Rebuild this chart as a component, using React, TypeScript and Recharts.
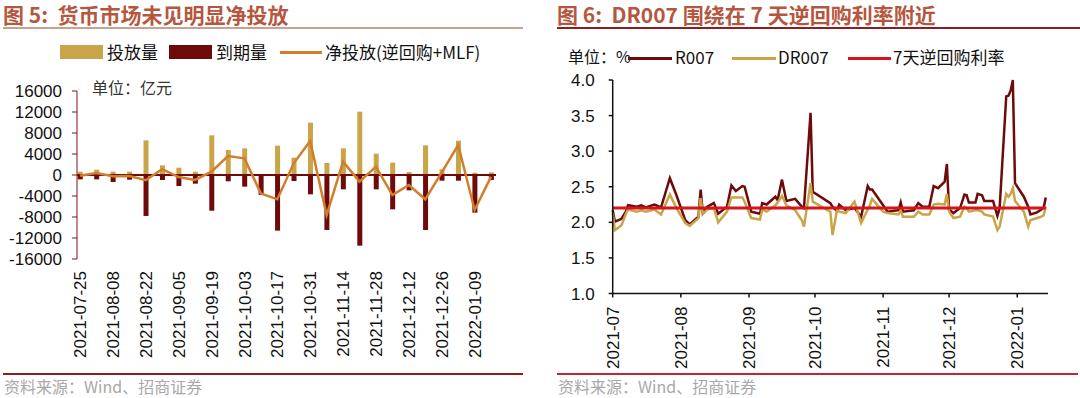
import React from "react";
import {
  Bar,
  ComposedChart,
  Line,
  LineChart,
  ReferenceLine,
  XAxis,
  YAxis
} from "recharts";

// 图5 weekly data (亿元)
const weeks = [
  '2021-07-25', '2021-08-01', '2021-08-08', '2021-08-15', '2021-08-22', '2021-08-29',
  '2021-09-05', '2021-09-12', '2021-09-19', '2021-09-26', '2021-10-03', '2021-10-10',
  '2021-10-17', '2021-10-24', '2021-10-31', '2021-11-07', '2021-11-14', '2021-11-21',
  '2021-11-28', '2021-12-05', '2021-12-12', '2021-12-19', '2021-12-26', '2022-01-02',
  '2022-01-09', '2022-01-16'
]
const injection = [
  640, 1000, 630, 630, 6600, 1840, 1400, 630, 7550, 4760, 5080, 200, 5590,
  3300, 9970, 2290, 5080, 12060, 4060, 2350, 570, 5650, 1080, 6540, 440, 500
]
const maturity = [
  -830, -830, -1330, -890, -7800, -950, -2100, -1650, -6800, -1200, -2220, -3800, -10600,
  -1140, -3680, -10480, -2730, -13460, -2730, -6540, -2920, -10480, -1080, -1080, -7170, -950
]
const netInjection = [
  -150, 380, -250, -200, -1000, 1100, -400, -950, 630, 3600, 3170, -3500, -4630,
  2220, 6480, -7620, 2540, -1270, 1590, -3810, -1900, -4630, 500, 5710, -6670, -300
]
const leftTicks = [16000, 12000, 8000, 4000, 0, -4000, -8000, -12000, -16000]

// 图6 daily rates (%)
const rateDates = [
  '2021-07-01', '2021-07-02', '2021-07-05', '2021-07-07', '2021-07-08', '2021-07-12',
  '2021-07-14', '2021-07-16', '2021-07-20', '2021-07-23', '2021-07-27', '2021-07-30',
  '2021-08-03', '2021-08-05', '2021-08-09', '2021-08-10', '2021-08-11', '2021-08-13',
  '2021-08-16', '2021-08-18', '2021-08-22', '2021-08-24', '2021-08-26', '2021-08-29',
  '2021-08-30', '2021-09-02', '2021-09-06', '2021-09-07', '2021-09-09', '2021-09-13',
  '2021-09-14', '2021-09-16', '2021-09-18', '2021-09-22', '2021-09-25', '2021-09-26',
  '2021-09-29', '2021-09-30', '2021-10-08', '2021-10-09', '2021-10-11', '2021-10-12',
  '2021-10-15', '2021-10-19', '2021-10-22', '2021-10-25', '2021-10-26', '2021-10-27',
  '2021-11-01', '2021-11-03', '2021-11-08', '2021-11-09', '2021-11-10', '2021-11-15',
  '2021-11-17', '2021-11-19', '2021-11-22', '2021-11-24', '2021-11-26', '2021-11-29',
  '2021-11-30', '2021-12-01', '2021-12-03', '2021-12-06', '2021-12-08', '2021-12-09',
  '2021-12-10', '2021-12-13', '2021-12-14', '2021-12-16', '2021-12-17', '2021-12-21',
  '2021-12-23', '2021-12-24', '2021-12-27', '2021-12-28', '2021-12-29', '2021-12-30',
  '2021-12-31', '2022-01-04', '2022-01-06', '2022-01-07', '2022-01-10', '2022-01-12',
  '2022-01-13', '2022-01-14'
]
const r007 = [
  2.17, 2.01, 2.05, 2.15, 2.24, 2.22,
  2.24, 2.21, 2.25, 2.21, 2.62, 2.38,
  2.03, 1.97, 2.08, 2.46, 2.13, 2.22,
  2.27, 2.12, 2.22, 2.52, 2.44, 2.51,
  2.50, 2.15, 2.12, 2.27, 2.25, 2.36,
  2.31, 2.60, 2.30, 2.33, 2.22, 2.20,
  3.54, 2.43, 2.27, 2.22, 2.16, 2.25,
  2.17, 2.20, 2.08, 2.51, 2.46, 2.46,
  2.24, 2.15, 2.17, 2.28, 2.15, 2.17,
  2.27, 2.22, 2.22, 2.51, 2.48, 2.57,
  2.82, 2.18, 2.13, 2.20, 2.39, 2.38,
  2.28, 2.28, 2.40, 2.38, 2.30, 2.30,
  2.09, 2.20, 3.77, 3.78, 3.85, 4.00,
  2.55, 2.36, 2.22, 2.11, 2.14, 2.18,
  2.20, 2.35
]
const dr007 = [
  2.13, 1.89, 1.96, 2.12, 2.18, 2.15,
  2.17, 2.15, 2.18, 2.11, 2.39, 2.20,
  1.99, 1.95, 2.06, 2.34, 2.12, 2.18,
  2.20, 2.00, 2.15, 2.35, 2.35, 2.35,
  2.29, 2.06, 2.04, 2.18, 2.15, 2.24,
  2.28, 2.37, 2.24, 2.17, 2.03, 1.94,
  2.55, 2.29, 2.15, 1.82, 2.17, 2.15,
  2.13, 2.29, 1.99, 2.18, 2.24, 2.33,
  2.15, 2.13, 2.11, 2.17, 2.08, 2.08,
  2.15, 2.11, 2.11, 2.25, 2.26, 2.25,
  2.40, 2.15, 2.06, 2.08, 2.22, 2.20,
  2.15, 2.17, 2.17, 2.15, 2.11, 2.08,
  1.89, 1.94, 2.40, 2.36, 2.40, 2.48,
  2.30, 2.15, 1.94, 2.03, 2.06, 2.08,
  2.10, 2.22
]
const repoDates = ['2021-07-01', '2022-01-14']
const repoRate = [2.2, 2.2]
const monthTicks = ['2021-07-01', '2021-08-01', '2021-09-01', '2021-10-01', '2021-11-01', '2021-12-01', '2022-01-01']
const rightTicks = [1.0, 1.5, 2.0, 2.5, 3.0, 3.5, 4.0]

const GOLD = '#C9A449'
const DARK = '#6E0A0A'
const ORANGE = '#D27D2A'
const RED = '#D6141B'
const FONT = '"Liberation Sans", Arial, sans-serif'
const CJK = '"Noto Sans CJK SC", sans-serif'

const ts = (s: string) => Date.UTC(+s.slice(0, 4), +s.slice(5, 7) - 1, +s.slice(8, 10))

const weekData = weeks.map((w, i) => ({
  i, w, inj: injection[i], mat: maturity[i], net: netInjection[i]
}))
const rateData = rateDates.map((d, i) => ({ t: ts(d), r: r007[i], dr: dr007[i] }))
const repoData = repoDates.map((d, i) => ({ t: ts(d), repo: repoRate[i] }))

function RotTick({ x, y, payload, fmt, off }: any) {
  return (
    <text
      transform={`translate(${x},${y + off}) rotate(-90)`}
      textAnchor="end"
      dy="0.36em"
      fontSize={17}
      fontFamily={FONT}
      fill="#111"
    >
      {fmt(payload.value)}
    </text>
  )
}

const abs = (s: React.CSSProperties): React.CSSProperties => ({ position: 'absolute', whiteSpace: 'nowrap', ...s })

function LeftChart() {
  return (
    <ComposedChart
      width={520}
      height={370}
      data={weekData}
      stackOffset="sign"
      margin={{ top: 91, right: 24, left: 0, bottom: 0 }}
    >
      <XAxis
        dataKey="i"
        type="number"
        domain={[-0.18, 25.3]}
        ticks={[0, 2, 4, 6, 8, 10, 12, 14, 16, 18, 20, 22, 24]}
        axisLine={false}
        tickLine={false}
        tickSize={0}
        tickMargin={0}
        height={111}
        interval={0}
        tick={(p: any) => <RotTick {...p} off={12} fmt={(v: number) => weeks[v]} />}
      />
      <YAxis
        type="number"
        width={77}
        domain={[-16000, 16000]}
        ticks={leftTicks}
        interval={0}
        stroke="#7A1616"
        tickSize={5}
        tickMargin={10}
        tick={{ fill: '#111', fontSize: 17, fontFamily: FONT }}
      />
      <ReferenceLine y={0} stroke="#6E0A0A" strokeWidth={2} />
      <Bar dataKey="inj" stackId="a" fill={GOLD} barSize={5} isAnimationActive={false} />
      <Bar dataKey="mat" stackId="a" fill={DARK} barSize={5} isAnimationActive={false} />
      <Line dataKey="net" stroke={ORANGE} strokeWidth={2.5} dot={false} isAnimationActive={false} />
    </ComposedChart>
  )
}

function RightChart() {
  return (
    <LineChart
      width={540}
      height={370}
      data={rateData}
      margin={{ top: 80, right: 32, left: 0, bottom: 0 }}
    >
      <XAxis
        dataKey="t"
        type="number"
        domain={[ts('2021-07-01'), ts('2022-01-15')]}
        ticks={monthTicks.map(ts)}
        interval={0}
        stroke="#111"
        strokeWidth={1.5}
        tickSize={4}
        tickMargin={0}
        height={76.5}
        tick={(p: any) => <RotTick {...p} off={9} fmt={(v: number) => new Date(v).toISOString().slice(0, 7)} />}
      />
      <YAxis
        type="number"
        width={72.7}
        domain={[1, 4]}
        ticks={rightTicks}
        interval={0}
        stroke="#111"
        strokeWidth={1.5}
        tickSize={4}
        tickMargin={14}
        tickFormatter={(v: number) => v.toFixed(1)}
        tick={{ fill: '#111', fontSize: 17, fontFamily: FONT }}
      />
      <Line dataKey="r" stroke={DARK} strokeWidth={2.5} dot={false} isAnimationActive={false} />
      <Line dataKey="dr" stroke={GOLD} strokeWidth={2.5} dot={false} isAnimationActive={false} />
      <Line data={repoData} dataKey="repo" stroke={RED} strokeWidth={3} dot={false} isAnimationActive={false} />
    </LineChart>
  )
}

export default function App() {
  const sw = (c: string, top: number, left: number) => (
    <div style={abs({ left, top, width: 43, height: 14, background: c })} />
  )
  const ln = (c: string, top: number, left: number, w = 43) => (
    <div style={abs({ left, top, width: w, height: 3, background: c })} />
  )
  const legendText = (t: string, left: number, top: number) => (
    <div style={abs({ left, top, fontSize: 17, fontFamily: CJK, color: '#111', lineHeight: '20px' })}>{t}</div>
  )
  return (
    <div style={{ position: 'absolute', left: 0, top: 0, width: 1080, height: 398, background: '#fff', overflow: 'hidden' }}>
      {/* left panel */}
      <div style={abs({ left: 3, top: 1, fontSize: 21, fontWeight: 700, fontFamily: CJK, color: '#B5573E', lineHeight: '26px' })}>
        图 5:&nbsp;&nbsp;货币市场未见明显净投放
      </div>
      <div style={abs({ left: 3, top: 27, width: 520, height: 2, background: '#C9A092' })} />
      {sw(GOLD, 45, 60)}
      {legendText('投放量', 107, 42)}
      {sw(DARK, 45, 169)}
      {legendText('到期量', 216, 42)}
      {ln(ORANGE, 51, 280, 42)}
      {legendText('净投放(逆回购+MLF)', 325, 42)}
      <div style={abs({ left: 0, top: 0 })}>
        <LeftChart />
      </div>
      <div style={abs({ left: 92, top: 77, fontSize: 16, fontFamily: CJK, color: '#333', lineHeight: '20px' })}>单位：亿元</div>
      <div style={abs({ left: 3, top: 373, width: 520, height: 2, background: '#8B1E1E' })} />
      <div style={abs({ left: 4, top: 376, fontSize: 16, fontFamily: CJK, color: '#A8A8A8', lineHeight: '20px' })}>资料来源：Wind、招商证券</div>

      {/* right panel */}
      <div style={abs({ left: 557, top: 1, fontSize: 21, fontWeight: 700, fontFamily: CJK, color: '#B5573E', lineHeight: '26px' })}>
        图 6:&nbsp;&nbsp;DR007 围绕在 7 天逆回购利率附近
      </div>
      <div style={abs({ left: 557, top: 27, width: 523, height: 2, background: '#8B1E1E' })} />
      <div style={abs({ left: 540, top: 0 })}>
        <RightChart />
      </div>
      <div style={abs({ left: 568, top: 46, fontSize: 16, fontFamily: CJK, color: '#111', lineHeight: '20px' })}>单位：%</div>
      {ln(DARK, 57, 628, 44)}
      {legendText('R007', 675, 47)}
      {ln(GOLD, 57, 732, 44)}
      {legendText('DR007', 778, 47)}
      {ln(RED, 57, 848, 43)}
      {legendText('7天逆回购利率', 893, 47)}
      <div style={abs({ left: 557, top: 373, width: 521, height: 2, background: '#C4262B' })} />
      <div style={abs({ left: 558, top: 376, fontSize: 16, fontFamily: CJK, color: '#A8A8A8', lineHeight: '20px' })}>资料来源：Wind、招商证券</div>
    </div>
  )
}
